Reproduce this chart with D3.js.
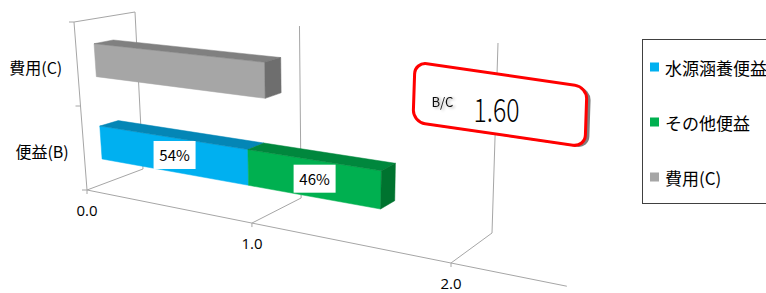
<!DOCTYPE html>
<html>
<head>
<meta charset="utf-8">
<script src="https://cdn.jsdelivr.net/npm/d3@7"></script>
<style>
  body { margin: 0; background: #fff; }
  svg { display: block; }
</style>
</head>
<body>
<div id="chart"></div>
<script>
// chart data
const categories = ["便益(B)", "費用(C)"];
const seriesNames = ["水源涵養便益", "その他便益", "費用(C)"];
const waterBenefit = [0.9, 0];
const otherBenefit = [0.7, 0];
const costValues = [0, 1.0];
const shareLabels = [["54%", "46%", null], [null, null, null]];
const xTickValues = [0, 1, 2];
const xMax = 2.5;
const ratioLabel = "B/C";
const ratioValue = 1.60;

const seriesColors = [
  { front: "#00B0F0", top: "#0486B6", end: "#03739C" },
  { front: "#00B050", top: "#00873D", end: "#00732F" },
  { front: "#A6A6A6", top: "#808080", end: "#6E6E6E" }
];

const width = 766, height = 293;
const font = "'Noto Sans CJK JP', 'Noto Sans', sans-serif";
const numFont = "'Open Sans', 'Noto Sans', sans-serif";
const gridColor = "#A6A6A6";

const svg = d3.select("#chart").append("svg")
  .attr("width", width)
  .attr("height", height);

// corners of the 3d plot box as seen on screen (value 0 / 2, front / back, floor / top)
const box = {
  fb0: [87, 190], fb2: [451, 263], bb0: [143, 169], bb2: [492, 233],
  ft0: [74, 22], ft2: [461, 60], bt0: [135, 12], bt2: [498, 43]
};
const persp = 1.207;
const depth = [0.3, 0.62];

const xScale = d3.scaleLinear().domain([0, 2]).range([0, 1]);
const hScale = d3.scaleBand().domain(categories).range([0, 1])
  .paddingInner(0.6).paddingOuter(0.3);

function lerp(a, b, t) {
  return [a[0] + (b[0] - a[0]) * t, a[1] + (b[1] - a[1]) * t];
}

function project(v, d, h) {
  const u = xScale(v);
  const f = u / (u + persp * (1 - u));
  const bottom = lerp(lerp(box.fb0, box.fb2, f), lerp(box.bb0, box.bb2, f), d);
  const top = lerp(lerp(box.ft0, box.ft2, f), lerp(box.bt0, box.bt2, f), d);
  return lerp(bottom, top, h);
}

function poly(pts) {
  return "M" + pts.map(p => p[0].toFixed(2) + "," + p[1].toFixed(2)).join("L") + "Z";
}

// walls and gridlines
const grid = svg.append("g")
  .attr("stroke", gridColor)
  .attr("stroke-width", 1)
  .attr("fill", "none");

xTickValues.forEach(v => {
  grid.append("path").attr("d", d3.line()([project(v, 0, 0), project(v, 1, 0), project(v, 1, 1)]));
});
grid.append("path").attr("d", d3.line()([project(0, 0, 1), project(0, 1, 1)]));

// value axis
grid.append("path").attr("d", d3.line()([project(0, 0, 0), project(xMax, 0, 0)]));
xTickValues.forEach(v => {
  const p = project(v, 0, 0);
  grid.append("path").attr("d", d3.line()([p, [p[0], p[1] + 4]]));
});

// category axis
grid.append("path").attr("d", d3.line()([project(0, 0, 0), project(0, 0, 1)]));
[0, 0.5, 1].forEach(h => {
  const p = project(0, 0, h);
  grid.append("path").attr("d", d3.line()([p, [p[0] - 5, p[1]]]));
});

svg.append("g").selectAll("text")
  .data(xTickValues)
  .enter()
  .append("text")
  .attr("x", d => project(d, 0, 0)[0])
  .attr("y", d => project(d, 0, 0)[1] + 26)
  .attr("text-anchor", "middle")
  .style("font-family", numFont)
  .style("font-size", "15px")
  .attr("fill", "#000")
  .text(d => d3.format(".1f")(d));

svg.append("g").selectAll("text")
  .data(categories)
  .enter()
  .append("text")
  .attr("x", d => project(0, 0, hScale(d) + hScale.bandwidth() / 2)[0] - 15)
  .attr("y", d => project(0, 0, hScale(d) + hScale.bandwidth() / 2)[1] + 3)
  .attr("text-anchor", "end")
  .attr("dominant-baseline", "central")
  .style("font-family", font)
  .style("font-size", "16px")
  .attr("fill", "#000")
  .text(d => d);

// stacked bars
const seriesValues = [waterBenefit, otherBenefit, costValues];
const bars = svg.append("g");
const labels = [];

categories.forEach((cat, ci) => {
  const h0 = hScale(cat), h1 = h0 + hScale.bandwidth();
  const [d0, d1] = depth;
  let x0 = 0;
  const segs = [];
  seriesValues.forEach((vals, si) => {
    const val = vals[ci];
    if (val > 0) segs.push({ si: si, x0: x0, x1: x0 + val });
    x0 += val;
  });
  segs.forEach((s, k) => {
    const c = seriesColors[s.si];
    const front = [project(s.x0, d0, h0), project(s.x1, d0, h0), project(s.x1, d0, h1), project(s.x0, d0, h1)];
    const top = [project(s.x0, d0, h1), project(s.x1, d0, h1), project(s.x1, d1, h1), project(s.x0, d1, h1)];
    bars.append("path").attr("d", poly(front)).attr("fill", c.front).attr("stroke", c.front).attr("stroke-width", 0.5);
    bars.append("path").attr("d", poly(top)).attr("fill", c.top).attr("stroke", c.top).attr("stroke-width", 0.5);
    if (k === segs.length - 1) {
      const end = [project(s.x1, d0, h0), project(s.x1, d1, h0), project(s.x1, d1, h1), project(s.x1, d0, h1)];
      bars.append("path").attr("d", poly(end)).attr("fill", c.end).attr("stroke", c.end).attr("stroke-width", 0.5);
    }
    const lab = shareLabels[ci][s.si];
    if (lab) {
      const cx = d3.mean(front, p => p[0]);
      const cy = d3.mean(front, p => p[1]);
      labels.push({ text: lab, x: cx, y: cy });
    }
  });
});

const lab = svg.append("g").selectAll("g")
  .data(labels)
  .enter()
  .append("g")
  .attr("transform", d => `translate(${d.x}, ${d.y})`);

lab.append("rect")
  .attr("x", -21).attr("y", -14)
  .attr("width", 42).attr("height", 28)
  .attr("fill", "#fff");

lab.append("text")
  .attr("text-anchor", "middle")
  .attr("dominant-baseline", "central")
  .style("font-family", font)
  .style("font-size", "15px")
  .attr("fill", "#000")
  .text(d => d.text);

// B/C call-out
const defs = svg.append("defs");
const glow = defs.append("filter").attr("id", "glow")
  .attr("x", "-50%").attr("y", "-50%").attr("width", "200%").attr("height", "200%");
glow.append("feGaussianBlur").attr("in", "SourceAlpha").attr("stdDeviation", 1.6).attr("result", "b");
glow.append("feOffset").attr("in", "b").attr("dx", 2).attr("dy", 1).attr("result", "o");
glow.append("feComponentTransfer").attr("in", "o").attr("result", "s")
  .append("feFuncA").attr("type", "linear").attr("slope", 0.35);
const merge = glow.append("feMerge");
merge.append("feMergeNode").attr("in", "s");
merge.append("feMergeNode").attr("in", "SourceGraphic");

const callout = svg.append("g")
  .attr("transform", "matrix(1, 0.1453, -0.0333, 1, 415, 62)");

callout.append("rect")
  .attr("x", 4).attr("y", 1)
  .attr("width", 172).attr("height", 60)
  .attr("rx", 12)
  .attr("fill", "#7F7F7F");

callout.append("rect")
  .attr("width", 172).attr("height", 60)
  .attr("rx", 12)
  .attr("fill", "#fff")
  .attr("stroke", "#FF0000")
  .attr("stroke-width", 3);

svg.append("text")
  .attr("x", 442.5).attr("y", 101)
  .attr("text-anchor", "middle")
  .attr("dominant-baseline", "central")
  .attr("textLength", 22)
  .attr("lengthAdjust", "spacingAndGlyphs")
  .attr("filter", "url(#glow)")
  .style("font-family", font)
  .style("font-size", "13px")
  .attr("fill", "#111")
  .text(ratioLabel);

svg.append("text")
  .attr("x", 496.5).attr("y", 107.5)
  .attr("text-anchor", "middle")
  .attr("dominant-baseline", "central")
  .attr("textLength", 46)
  .attr("lengthAdjust", "spacingAndGlyphs")
  .style("font-family", font)
  .style("font-size", "32px")
  .style("font-weight", 300)
  .attr("fill", "#000")
  .text(d3.format(".2f")(ratioValue));

// legend
const legend = svg.append("g");
legend.append("rect")
  .attr("x", 642.5).attr("y", 39.5)
  .attr("width", 160).attr("height", 164)
  .attr("fill", "#fff")
  .attr("stroke", "#404040")
  .attr("stroke-width", 1);

const legendY = d3.scalePoint().domain(seriesNames).range([67, 177]);

const item = legend.selectAll("g.item")
  .data(seriesNames)
  .enter()
  .append("g")
  .attr("class", "item")
  .attr("transform", d => `translate(650, ${legendY(d)})`);

item.append("rect")
  .attr("x", 0).attr("y", -4.5)
  .attr("width", 9).attr("height", 9)
  .attr("fill", (d, i) => seriesColors[i].front);

item.append("text")
  .attr("x", 15)
  .attr("dominant-baseline", "central")
  .style("font-family", font)
  .style("font-size", "17px")
  .attr("fill", "#000")
  .text(d => d);
</script>
</body>
</html>
